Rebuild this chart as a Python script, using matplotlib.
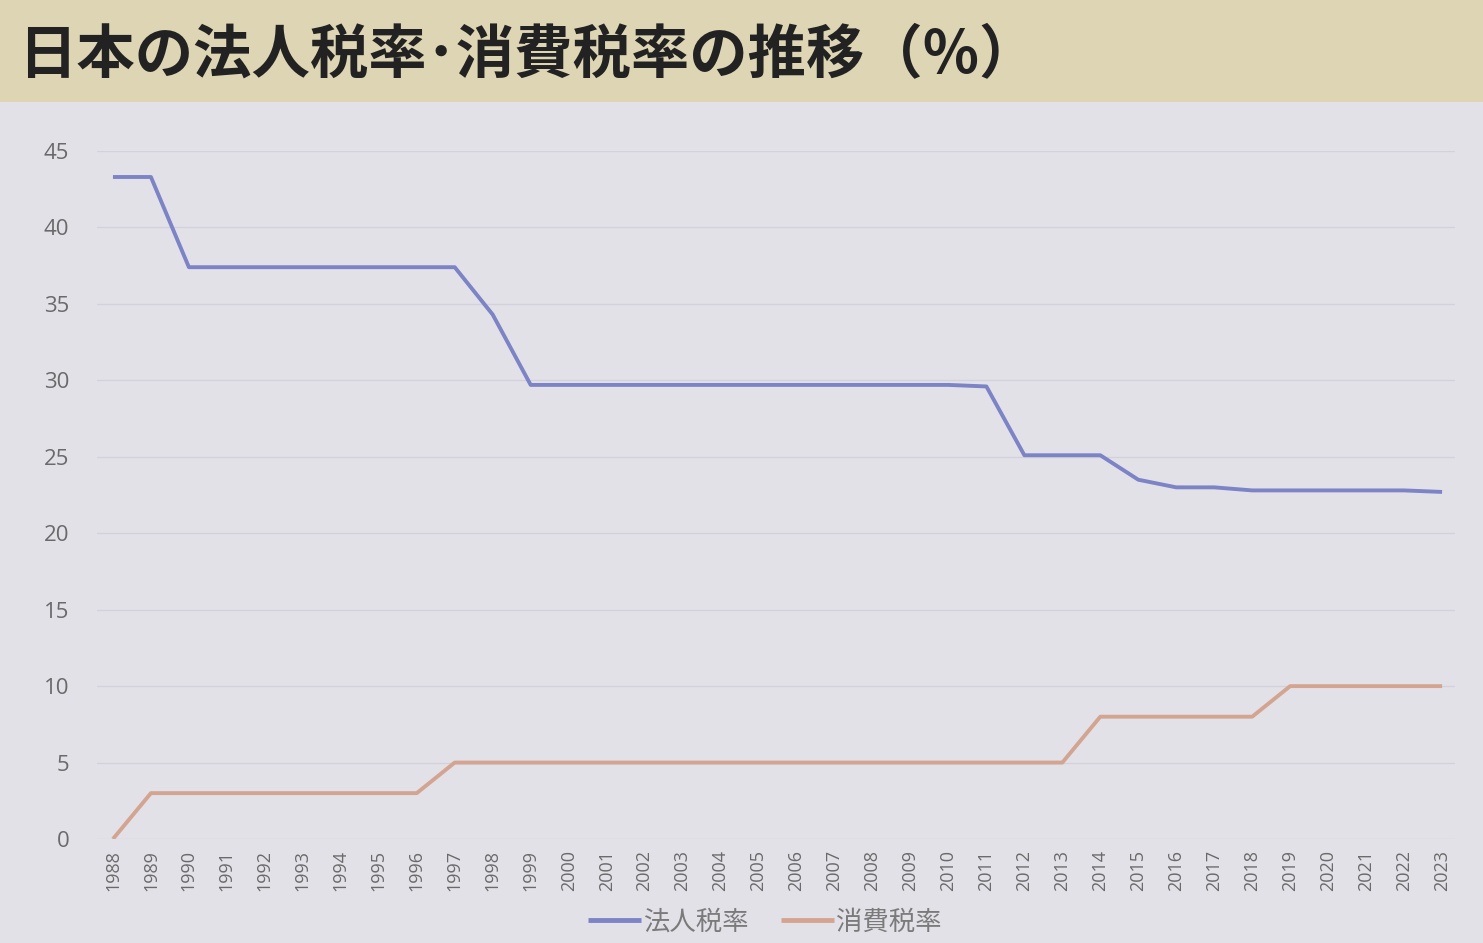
import matplotlib
matplotlib.use("Agg")
import matplotlib.pyplot as plt
from matplotlib.patches import Rectangle

plt.rcParams['font.family'] = ['Noto Sans CJK JP', 'DejaVu Sans']

years = list(range(1988, 2024))
# 法人税率 (%)
corp_tax = [43.3, 43.3, 37.4, 37.4, 37.4, 37.4, 37.4, 37.4, 37.4, 37.4,
            34.3, 29.7, 29.7, 29.7, 29.7, 29.7, 29.7, 29.7, 29.7, 29.7,
            29.7, 29.7, 29.7, 29.6, 25.1, 25.1, 25.1, 23.5, 23.0, 23.0,
            22.8, 22.8, 22.8, 22.8, 22.8, 22.7]
# 消費税率 (%)
cons_tax = [0, 3, 3, 3, 3, 3, 3, 3, 3, 5,
            5, 5, 5, 5, 5, 5, 5, 5, 5, 5,
            5, 5, 5, 5, 5, 5, 8, 8, 8, 8,
            8, 10, 10, 10, 10, 10]
title = "日本の法人税率･消費税率の推移（%）"

W, H = 1483, 943
fig = plt.figure(figsize=(W / 100, H / 100), dpi=100)
fig.patch.set_facecolor("#e3e1e8")

# title band
fig.patches.append(Rectangle((0, 1 - 102 / H), 1, 102 / H, transform=fig.transFigure,
                             facecolor="#ddd5b4", edgecolor="none", zorder=0))
fig.text(18 / W, 1 - 55 / H, title, fontsize=42, fontweight="bold",
         color="#222222", ha="left", va="center")

ax = fig.add_axes([97 / W, (H - 839) / H, 1358 / W, 688 / H])
ax.set_facecolor("#e3e1e8")

ax.plot(years, corp_tax, color="#7c84c6", lw=2.8, label="法人税率", solid_capstyle="butt")
ax.plot(years, cons_tax, color="#d3a591", lw=2.8, label="消費税率", solid_capstyle="butt")

ax.set_ylim(0, 45)
ax.set_xlim(1987.58, 2023.34)
ax.set_yticks(range(0, 46, 5))
ax.set_yticklabels([str(v) for v in range(0, 46, 5)], family="Open Sans")
ax.set_xticks(years)
ax.set_xticklabels([str(y) for y in years], rotation=90, fontsize=13,
                   color="#6a6a6a", family="Open Sans")
ax.tick_params(axis="y", labelsize=16, colors="#6a6a6a", length=0, pad=20)
ax.tick_params(axis="x", length=0, pad=8)
ax.grid(axis="y", color="#d3d1d9", lw=1)
ax.set_axisbelow(True)
for s in ax.spines.values():
    s.set_visible(False)

leg = fig.legend(loc="center", bbox_to_anchor=(765 / W, 1 - 922 / H), ncol=2, frameon=False,
                 fontsize=19, handlelength=2.0, handletextpad=0.1, columnspacing=1.2,
                 borderpad=0)
for t in leg.get_texts():
    t.set_color("#7a7a7a")
for l in leg.get_lines():
    l.set_linewidth(3.5)

fig.savefig("out.png", dpi=100, facecolor=fig.get_facecolor())
